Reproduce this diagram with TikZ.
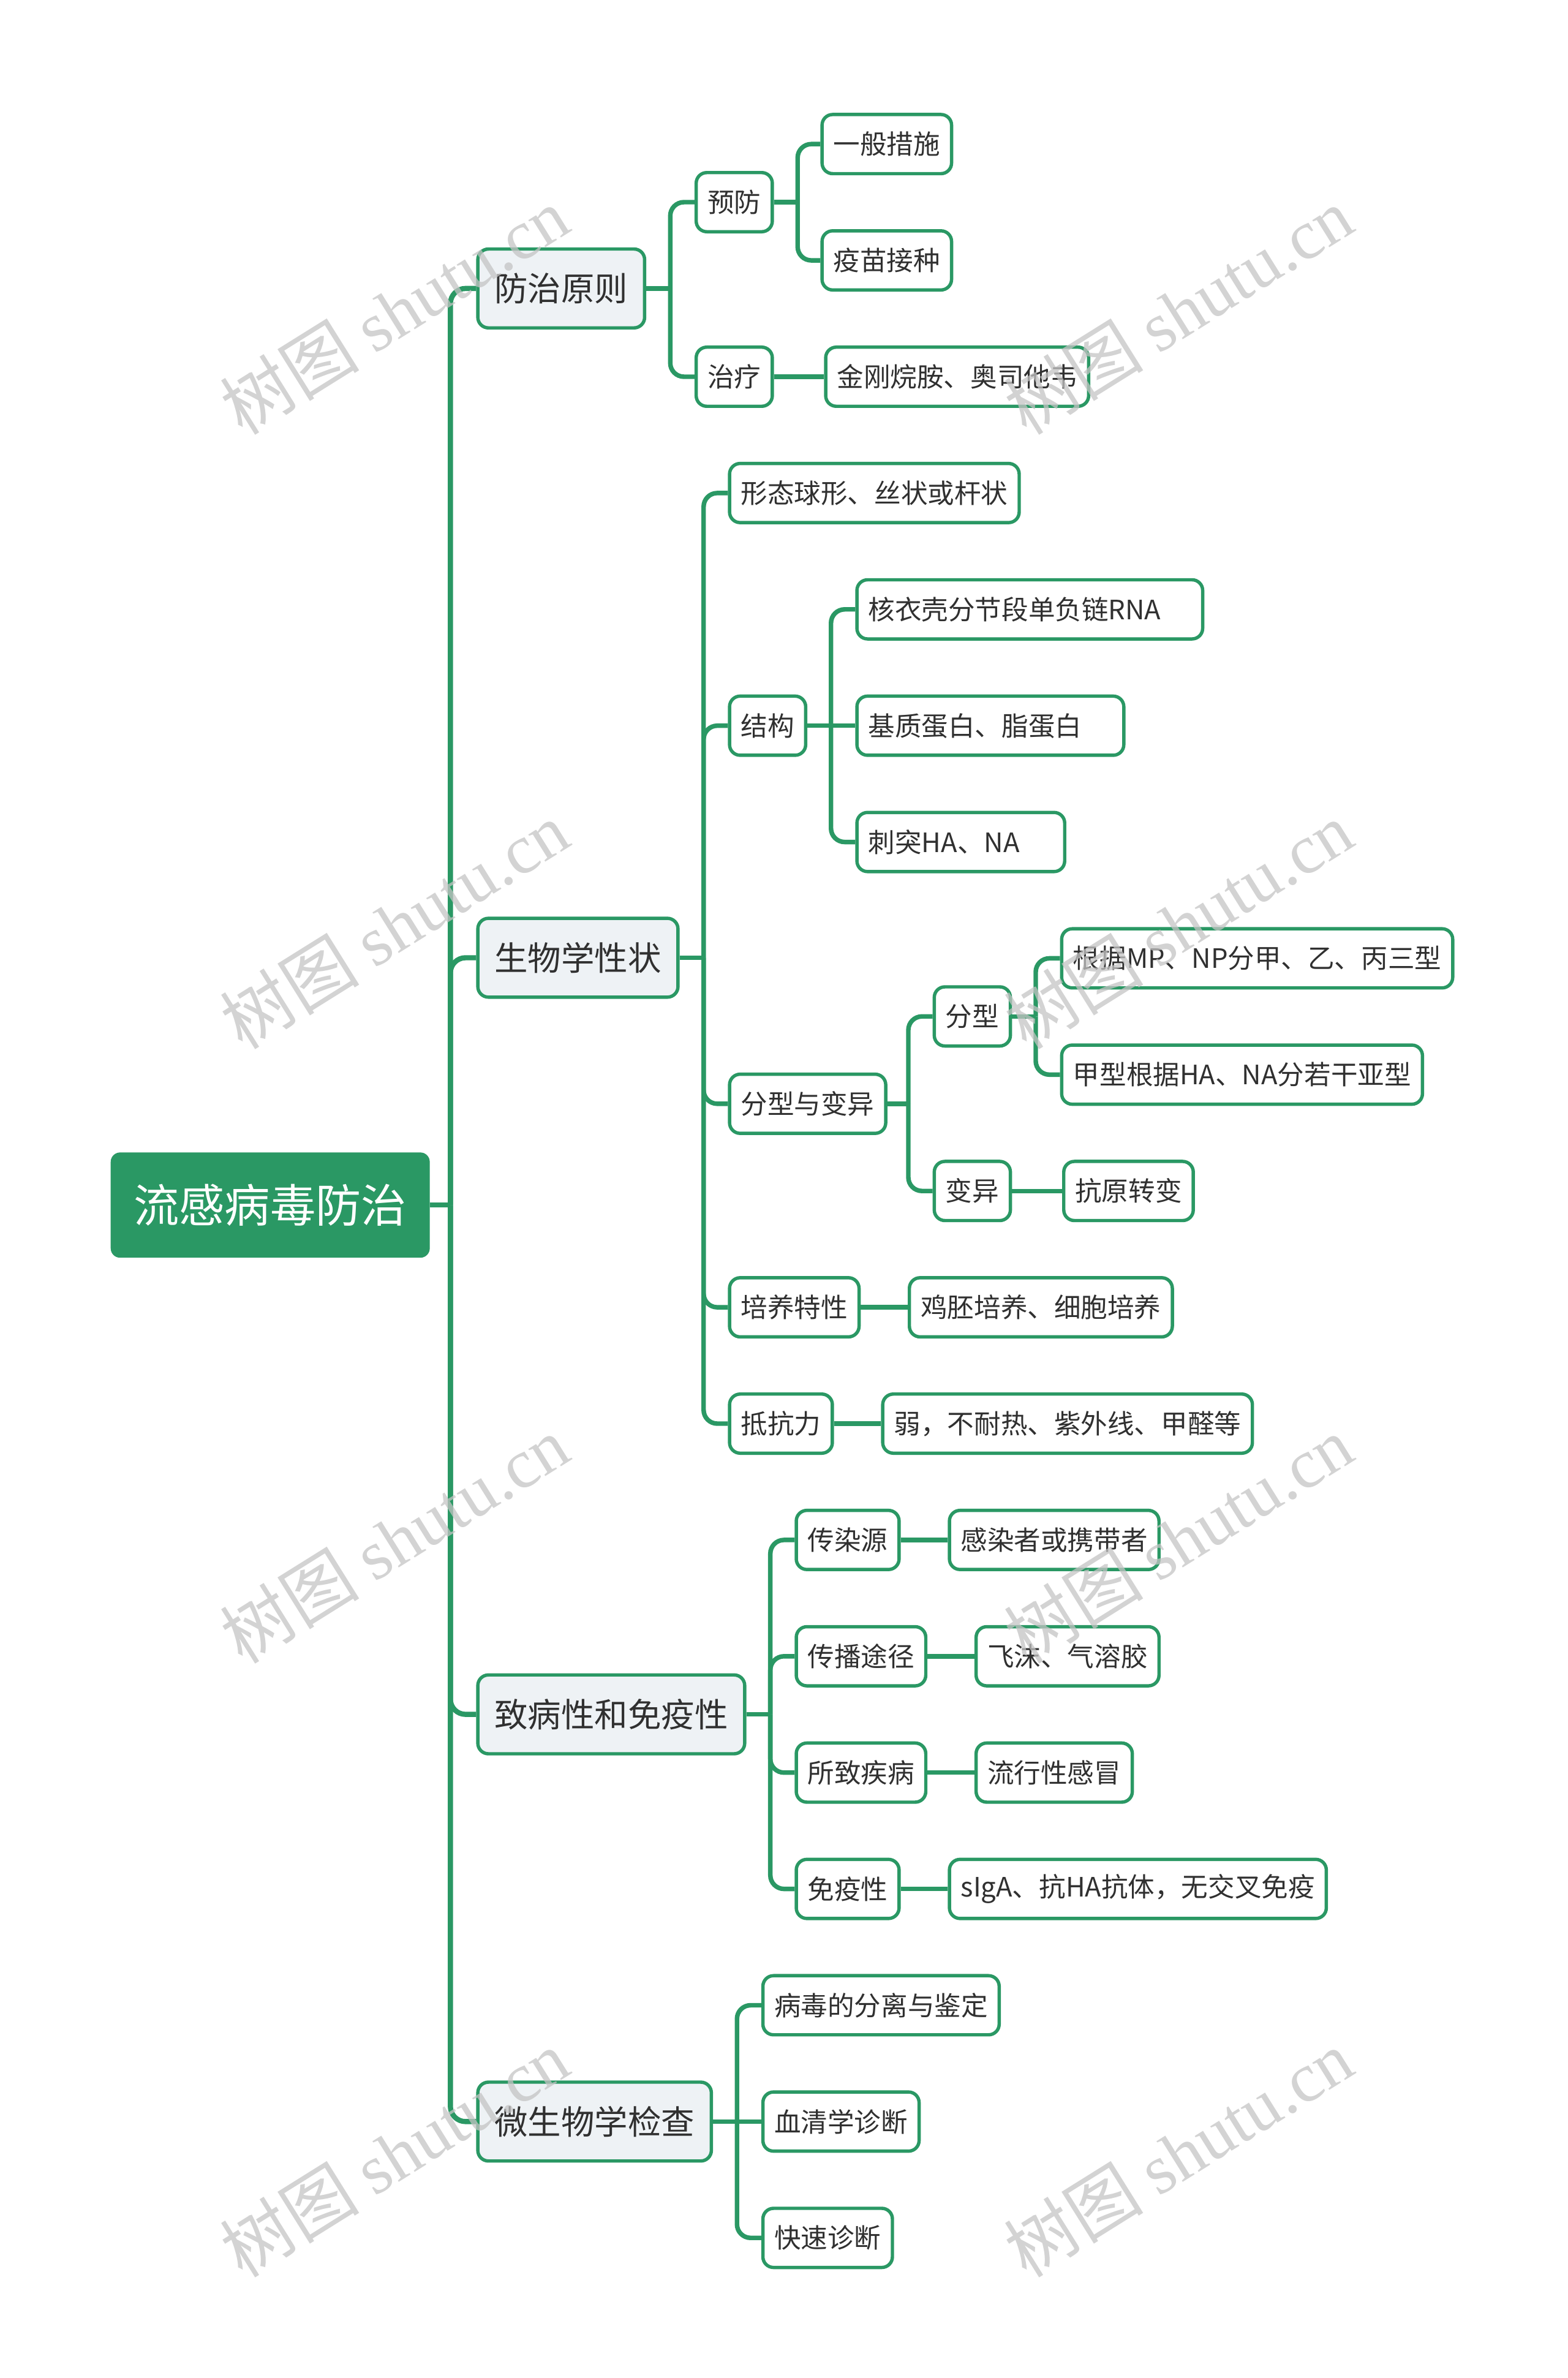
\documentclass[tikz,border=0pt]{standalone}
\usepackage{fontspec}
\setmainfont{Noto Sans CJK SC}
\newfontfamily\wmfont{Liberation Serif}
\usetikzlibrary{positioning}
\definecolor{mmgreen}{HTML}{2A9864}
\definecolor{mmgray}{HTML}{EEF2F5}
\definecolor{mmtext}{HTML}{303030}
\definecolor{wmgray}{HTML}{C4C4C4}

\begin{document}
\begin{tikzpicture}[x=1pt,y=-1pt,
  root/.style={draw=mmgreen,fill=mmgreen,rounded corners=6pt,text=white,font=\fontsize{30}{36}\selectfont,inner xsep=15pt,minimum height=69pt,anchor=west},
  topic/.style={draw=mmgreen,line width=2.2pt,fill=mmgray,rounded corners=7pt,text=mmtext,font=\fontsize{22}{26}\selectfont,inner xsep=11pt,minimum height=52pt,anchor=west},
  leaf/.style={draw=mmgreen,line width=2.2pt,fill=white,rounded corners=7pt,text=mmtext,font=\fontsize{17.6}{21}\selectfont,inner xsep=7.5pt,minimum height=39pt,anchor=west},
  wideleaf/.style={leaf,align=left,text width=#1},
  trunk/.style={draw=mmgreen,line width=3.4pt,rounded corners=10pt},
  link/.style={draw=mmgreen,line width=3pt,rounded corners=9pt},
  wmark/.style={text=wmgray,opacity=0.75,rotate=32,font=\fontsize{46}{50}\selectfont}]
\useasboundingbox (0,0) rectangle (1034,1568);

\node[root] (root) at (73,794.6) {流感病毒防治};

\node[topic] (fzyz) at (314,190.2) {防治原则};
\node[topic] (swxx) at (314,631.5) {生物学性状};
\node[topic] (zbx) at (314,1130.4) {致病性和免疫性};
\node[topic] (wsw) at (314,1398.9) {微生物学检查};

\node[leaf] (yf) at (458,133.3) {预防};
\node[leaf] (ybcs) at (541,95) {一般措施};
\node[leaf] (ymjz) at (541,171.7) {疫苗接种};
\node[leaf] (zl) at (458,248.4) {治疗};
\node[leaf,right=33pt of zl] (jgwa) {金刚烷胺、奥司他韦};

\node[leaf] (xt) at (480,325.1) {形态球形、丝状或杆状};
\node[leaf] (jg) at (480,478.5) {结构};
\node[wideleaf=213pt] (hyq) at (564,401.8) {核衣壳分节段单负链RNA};
\node[wideleaf=161pt] (jzdb) at (564,478.5) {基质蛋白、脂蛋白};
\node[wideleaf=122pt] (ct) at (564,555.2) {刺突HA、NA};
\node[leaf] (fxby) at (480,727.8) {分型与变异};
\node[leaf] (fx) at (615,670.2) {分型};
\node[leaf] (gjmp) at (699,631.9) {根据MP、NP分甲、乙、丙三型};
\node[leaf] (jxha) at (699,708.6) {甲型根据HA、NA分若干亚型};
\node[leaf] (by) at (615,785.3) {变异};
\node[leaf,right=33pt of by] (kyzb) {抗原转变};
\node[leaf] (pytx) at (480,862) {培养特性};
\node[leaf,right=31pt of pytx] (jppy) {鸡胚培养、细胞培养};
\node[leaf] (dkl) at (480,938.7) {抵抗力};
\node[leaf,right=31pt of dkl] (ruo) {弱，不耐热、紫外线、甲醛等};

\node[leaf] (crs) at (524,1015.4) {传染源};
\node[leaf,right=31pt of crs] (grz) {感染者或携带者};
\node[leaf] (cbtj) at (524,1092.1) {传播途径};
\node[leaf,right=31pt of cbtj] (fm) {飞沫、气溶胶};
\node[leaf] (szjb) at (524,1168.8) {所致疾病};
\node[leaf,right=31pt of szjb] (lxg) {流行性感冒};
\node[leaf] (myx) at (524,1245.5) {免疫性};
\node[leaf,right=31pt of myx] (siga) {sIgA、抗HA抗体，无交叉免疫};

\node[leaf] (bdfl) at (502,1322.2) {病毒的分离与鉴定};
\node[leaf] (xqx) at (502,1398.9) {血清学诊断};
\node[leaf] (kszd) at (502,1475.6) {快速诊断};

% junctions
\coordinate (j0) at (297,794.6);
\coordinate (jfz) at (442,190.2);
\coordinate (jyf) at (526,133.3);
\coordinate (jsw) at (464,631.5);
\coordinate (jjg) at (548,478.5);
\coordinate (jfb) at (599,727.8);
\coordinate (jfx) at (683,670.2);
\coordinate (jzb) at (508,1130.4);
\coordinate (jws) at (486,1398.9);

\draw[trunk] (root.east) -- (j0);
\draw[trunk] (j0) |- (fzyz.west);
\draw[trunk] (j0) |- (swxx.west);
\draw[trunk] (j0) |- (zbx.west);
\draw[trunk] (j0) |- (wsw.west);

\draw[link] (fzyz.east) -- (jfz);
\draw[link] (jfz) |- (yf.west);
\draw[link] (jfz) |- (zl.west);
\draw[link] (yf.east) -- (jyf);
\draw[link] (jyf) |- (ybcs.west);
\draw[link] (jyf) |- (ymjz.west);
\draw[link] (zl.east) -- (jgwa.west);

\draw[link] (swxx.east) -- (jsw);
\draw[link] (jsw) |- (xt.west);
\draw[link] (jsw) |- (jg.west);
\draw[link] (jsw) |- (fxby.west);
\draw[link] (jsw) |- (pytx.west);
\draw[link] (jsw) |- (dkl.west);
\draw[link] (jg.east) -- (jjg);
\draw[link] (jjg) |- (hyq.west);
\draw[link] (jjg) -- (jzdb.west);
\draw[link] (jjg) |- (ct.west);
\draw[link] (fxby.east) -- (jfb);
\draw[link] (jfb) |- (fx.west);
\draw[link] (jfb) |- (by.west);
\draw[link] (fx.east) -- (jfx);
\draw[link] (jfx) |- (gjmp.west);
\draw[link] (jfx) |- (jxha.west);
\draw[link] (by.east) -- (kyzb.west);
\draw[link] (pytx.east) -- (jppy.west);
\draw[link] (dkl.east) -- (ruo.west);

\draw[link] (zbx.east) -- (jzb);
\draw[link] (jzb) |- (crs.west);
\draw[link] (jzb) |- (cbtj.west);
\draw[link] (jzb) |- (szjb.west);
\draw[link] (jzb) |- (myx.west);
\draw[link] (crs.east) -- (grz.west);
\draw[link] (cbtj.east) -- (fm.west);
\draw[link] (szjb.east) -- (lxg.west);
\draw[link] (myx.east) -- (siga.west);

\draw[link] (wsw.east) -- (jws);
\draw[link] (jws) |- (bdfl.west);
\draw[link] (jws) -- (xqx.west);
\draw[link] (jws) |- (kszd.west);

% watermark
\foreach \wx in {260,777}
  \foreach \wy in {205,610,1015,1420}
    \node[wmark] at (\wx,\wy) {树图 {\wmfont shutu.cn}};
\end{tikzpicture}
\end{document}
